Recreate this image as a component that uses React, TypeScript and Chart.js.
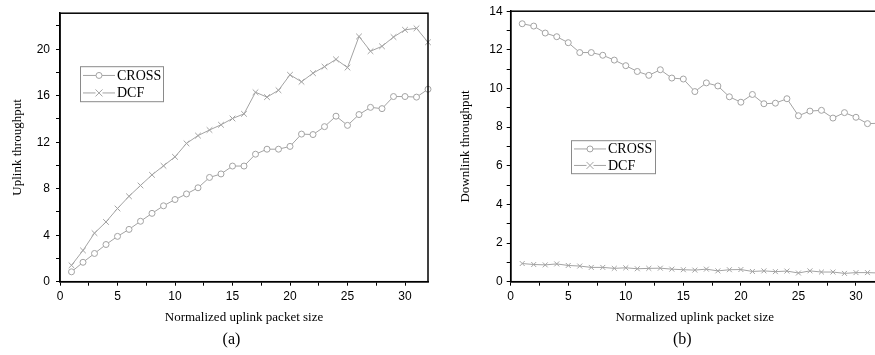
import React, { useEffect, useRef } from "react";
import { Chart, registerables } from "chart.js";

Chart.register(...registerables);

// ---------- data ----------
const packetSizes = [
  1, 2, 3, 4, 5, 6, 7, 8, 9, 10, 11, 12, 13, 14, 15, 16,
  17, 18, 19, 20, 21, 22, 23, 24, 25, 26, 27, 28, 29, 30, 31, 32,
];
const seriesNames = ["CROSS", "DCF"];

const uplinkCross = [
  0.85, 1.67, 2.43, 3.2, 3.9, 4.5, 5.2, 5.88, 6.53, 7.07, 7.55, 8.08, 8.97, 9.27, 9.95, 9.95,
  10.97, 11.4, 11.4, 11.64, 12.7, 12.66, 13.34, 14.24, 13.45, 14.38, 15.0, 14.89, 15.93, 15.93, 15.88, 16.56,
];
const uplinkDcf = [
  1.41, 2.69, 4.18, 5.14, 6.3, 7.35, 8.28, 9.19, 9.97, 10.74, 11.9, 12.57, 13.05, 13.5, 14.04, 14.44,
  16.3, 15.88, 16.47, 17.8, 17.2, 17.94, 18.5, 19.13, 18.42, 21.1, 19.83, 20.25, 21.05, 21.67, 21.8, 20.6,
];
const downlinkCross = [
  13.35, 13.23, 12.87, 12.68, 12.37, 11.86, 11.86, 11.72, 11.47, 11.18, 10.88, 10.68, 10.97, 10.54, 10.49, 9.84,
  10.29, 10.13, 9.57, 9.29, 9.69, 9.21, 9.24, 9.47, 8.59, 8.83, 8.87, 8.47, 8.75, 8.51, 8.18, 8.2,
];
const downlinkDcf = [
  0.94, 0.89, 0.87, 0.92, 0.84, 0.81, 0.74, 0.74, 0.69, 0.72, 0.67, 0.69, 0.7, 0.65, 0.62, 0.6,
  0.65, 0.56, 0.62, 0.63, 0.53, 0.56, 0.52, 0.55, 0.45, 0.56, 0.5, 0.5, 0.43, 0.47, 0.47, 0.45,
];

const xTickLabels = [0, 5, 10, 15, 20, 25, 30];
const xMinorTicks = [0, 2.5, 5, 7.5, 10, 12.5, 15, 17.5, 20, 22.5, 25, 27.5, 30];
const uplinkYTicks = [0, 2, 4, 6, 8, 10, 12, 14, 16, 18, 20, 22];
const uplinkYTickLabels = [0, 4, 8, 12, 16, 20];
const downlinkYTicks = [0, 1, 2, 3, 4, 5, 6, 7, 8, 9, 10, 11, 12, 13, 14];
const downlinkYTickLabels = [0, 2, 4, 6, 8, 10, 12, 14];

// ---------- styling ----------
const GRAY = "#a3a3a3";
const SERIF = "'Liberation Serif', 'Times New Roman', serif";
const SANS = "'Liberation Sans', Arial, sans-serif";

type PanelSpec = {
  cross: number[];
  dcf: number[];
  yMax: number;
  yTicks: number[];
  yTickLabels: number[];
  yTitle: string;
  yAxisWidth: number;
  yTitlePad: number;
  yTickPad: number;
  padRight: number;
  crossRadius: number;
  dcfRadius: number;
  legend: { dx: number; dy: number; w: number; h: number };
  caption: string;
};

function makeDataset(label: string, values: number[], style: string, radius: number) {
  return {
    label,
    data: packetSizes.map((x, i) => ({ x, y: values[i] })),
    borderColor: GRAY,
    borderWidth: 1,
    pointStyle: style,
    pointRadius: radius,
    pointHoverRadius: radius,
    pointBackgroundColor: "#ffffff",
    pointBorderColor: GRAY,
    pointBorderWidth: 1,
    clip: false as const,
  };
}

const framePlugin = {
  id: "frameAndLegend",
  afterDraw(chart: any, _args: any, opts: any) {
    const { ctx, chartArea } = chart;
    const { left, top, right, bottom } = chartArea;
    ctx.save();
    ctx.strokeStyle = "#000";
    ctx.lineWidth = 1.5;
    ctx.strokeRect(left, top, right - left, bottom - top);

    // legend box
    const lg = opts.legend;
    const bx = left + lg.dx;
    const by = top + lg.dy;
    ctx.lineWidth = 1;
    ctx.strokeStyle = "#8a8a8a";
    ctx.strokeRect(bx + 0.5, by + 0.5, lg.w, lg.h);
    const rowH = lg.h / 2;
    chart.data.datasets.forEach((ds: any, i: number) => {
      const cy = by + rowH * (i + 0.5) + 0.5;
      ctx.strokeStyle = GRAY;
      ctx.lineWidth = 1;
      ctx.beginPath();
      ctx.moveTo(bx + 3, cy);
      ctx.lineTo(bx + 35, cy);
      ctx.stroke();
      ctx.fillStyle = "#fff";
      ctx.strokeStyle = GRAY;
      if (ds.pointStyle === "circle") {
        ctx.beginPath();
        ctx.arc(bx + 19, cy, 3, 0, Math.PI * 2);
        ctx.fill();
        ctx.stroke();
      } else {
        const r = 3.5;
        ctx.fillRect(bx + 19 - r, cy - r, 2 * r, 2 * r);
        ctx.beginPath();
        ctx.moveTo(bx + 19 - r, cy - r);
        ctx.lineTo(bx + 19 + r, cy + r);
        ctx.moveTo(bx + 19 - r, cy + r);
        ctx.lineTo(bx + 19 + r, cy - r);
        ctx.stroke();
      }
      ctx.fillStyle = "#000";
      ctx.font = `14px ${SERIF}`;
      ctx.textAlign = "left";
      ctx.textBaseline = "middle";
      ctx.fillText(ds.label, bx + 37, cy + 0.5);
    });

    // caption
    ctx.fillStyle = "#000";
    ctx.font = `16px ${SERIF}`;
    ctx.textAlign = "center";
    ctx.textBaseline = "middle";
    ctx.fillText(opts.caption, (left + right) / 2 - 12.5, 340);
    ctx.restore();
  },
};

function buildConfig(p: PanelSpec): any {
  return {
    type: "line",
    data: {
      datasets: [
        makeDataset(seriesNames[0], p.cross, "circle", p.crossRadius),
        makeDataset(seriesNames[1], p.dcf, "crossRot", p.dcfRadius),
      ],
    },
    plugins: [framePlugin],
    options: {
      responsive: false,
      animation: false,
      devicePixelRatio: 1,
      layout: { padding: { top: 9, right: p.padRight, left: 0, bottom: 0 } },
      plugins: {
        legend: { display: false },
        tooltip: { enabled: false },
        title: { display: false },
        frameAndLegend: { legend: p.legend, caption: p.caption },
      },
      scales: {
        x: {
          type: "linear",
          min: 0,
          max: 32,
          afterBuildTicks: (scale: any) => {
            scale.ticks = xMinorTicks.map((v) => ({ value: v }));
          },
          afterFit: (scale: any) => {
            scale.height = 73.3;
          },
          ticks: {
            autoSkip: false,
            maxRotation: 0,
            padding: 4,
            color: "#000",
            font: { family: SANS, size: 12 },
            callback: (v: number) => (xTickLabels.includes(v) ? String(v) : ""),
          },
          grid: { drawOnChartArea: false, drawTicks: true, tickLength: 4, color: "#000", lineWidth: 1 },
          border: { display: true, color: "#000", width: 1.5 },
          title: {
            display: true,
            text: "Normalized uplink packet size",
            color: "#000",
            font: { family: SERIF, size: 13 },
            padding: { top: 0, bottom: 30 },
          },
        },
        y: {
          type: "linear",
          min: 0,
          max: p.yMax,
          afterBuildTicks: (scale: any) => {
            scale.ticks = p.yTicks.map((v) => ({ value: v }));
          },
          afterFit: (scale: any) => {
            scale.width = p.yAxisWidth;
          },
          ticks: {
            autoSkip: false,
            padding: p.yTickPad,
            color: "#000",
            font: { family: SANS, size: 12 },
            callback: (v: number) => (p.yTickLabels.includes(v) ? String(v) : ""),
          },
          grid: { drawOnChartArea: false, drawTicks: true, tickLength: 4, color: "#000", lineWidth: 1 },
          border: { display: true, color: "#000", width: 1.5 },
          title: {
            display: true,
            text: p.yTitle,
            color: "#000",
            font: { family: SERIF, size: 13 },
            padding: { top: p.yTitlePad, bottom: 0 },
          },
        },
      },
    },
  };
}

const uplinkPanel: PanelSpec = {
  cross: uplinkCross,
  dcf: uplinkDcf,
  yMax: 23.1,
  yTicks: uplinkYTicks,
  yTickLabels: uplinkYTickLabels,
  yTitle: "Uplink throughput",
  yAxisWidth: 60,
  yTitlePad: 10,
  yTickPad: 6,
  padRight: 12,
  crossRadius: 3,
  dcfRadius: 4,
  legend: { dx: 20, dy: 53, w: 83, h: 35 },
  caption: "(a)",
};

const downlinkPanel: PanelSpec = {
  cross: downlinkCross,
  dcf: downlinkDcf,
  yMax: 14,
  yTicks: downlinkYTicks,
  yTickLabels: downlinkYTickLabels,
  yTitle: "Downlink throughput",
  yAxisWidth: 70.7,
  yTitlePad: 18,
  yTickPad: 4,
  padRight: 6,
  crossRadius: 3,
  dcfRadius: 3.5,
  legend: { dx: 60.3, dy: 129, w: 84, h: 33 },
  caption: "(b)",
};

function Panel({ spec, left, width }: { spec: PanelSpec; left: number; width: number }) {
  const ref = useRef<HTMLCanvasElement | null>(null);
  useEffect(() => {
    if (!ref.current) return;
    const chart = new Chart(ref.current, buildConfig(spec));
    return () => chart.destroy();
  }, [spec]);
  return (
    <div style={{ position: "absolute", left, top: 0, width, height: 355 }}>
      <canvas ref={ref} width={width} height={355} style={{ display: "block" }} />
    </div>
  );
}

export default function App() {
  return (
    <div
      style={{
        position: "fixed",
        left: 0,
        top: 0,
        width: 875,
        height: 355,
        overflow: "hidden",
        background: "#fff",
      }}
    >
      <Panel spec={uplinkPanel} left={0} width={440} />
      <Panel spec={downlinkPanel} left={440} width={445} />
    </div>
  );
}
